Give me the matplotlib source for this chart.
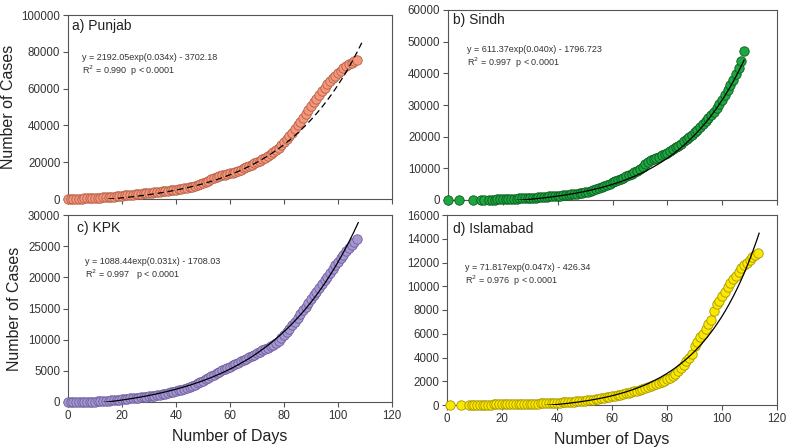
import numpy as np
import matplotlib
matplotlib.use("Agg")
import matplotlib.pyplot as plt
from matplotlib import font_manager

names = {f.name for f in font_manager.fontManager.ttflist}
BASE = "Liberation Sans" if "Liberation Sans" in names else "DejaVu Sans"
NARROW = "Liberation Sans Narrow" if "Liberation Sans Narrow" in names else BASE
plt.rcParams['font.family'] = [BASE, 'DejaVu Sans']

# ---------------- data ----------------
punjab_days = list(range(0, 108))
punjab_cases = [
    0, 30, 80, 130, 180, 240, 300, 360, 430, 500,
    580, 660, 750, 840, 940, 1050, 1170, 1300, 1450, 1600,
    1800, 1950, 2100, 2250, 2400, 2550, 2700, 2850, 3000, 3150,
    3300, 3450, 3600, 3750, 3900, 4100, 4300, 4450, 4650, 4850,
    5050, 5300, 5550, 5800, 6050, 6350, 6700, 7100, 7600, 8200,
    8800, 9400, 10000, 10600, 11200, 11800, 12300, 12800, 13200, 13600,
    14000, 14400, 14900, 15400, 16000, 16600, 17200, 17900, 18700, 19500,
    20200, 20900, 21600, 22400, 23300, 24300, 25400, 26600, 27900, 29400,
    31000, 32600, 34300, 36100, 38000, 40000, 42000, 44100, 46200, 48300,
    50400, 52500, 54600, 56600, 58600, 60500, 62300, 64000, 65600, 67100,
    68500, 69800, 71000, 72100, 73100, 74000, 75000, 75800,
]

sindh_days = [0, 4, 9, 12, 13] + list(range(15, 109))
sindh_cases = [
    1, 2, 4, 5, 5,
    30, 60, 120, 170, 210, 260, 300, 340, 380, 410,
    440, 480, 520, 560, 600, 650, 700, 760, 830, 900,
    970, 1040, 1110, 1180, 1250, 1320, 1400, 1480, 1560, 1650,
    1750, 1860, 1980, 2120, 2280, 2450, 2650, 2880, 3150, 3450,
    3800, 4150, 4500, 4850, 5200, 5550, 5900, 6300, 6700, 7100,
    7500, 7900, 8300, 8700, 9200, 9800, 10500, 11300, 12000, 12500,
    12900, 13300, 13700, 14100, 14500, 15000, 15500, 16000, 16600, 17200,
    17800, 18500, 19200, 19900, 20600, 21400, 22200, 23000, 23900, 24800,
    25800, 26800, 27900, 29000, 30300, 31700, 33200, 34800, 36400, 38000,
    39800, 41700, 44000, 47000,
]

kpk_days = list(range(0, 108))
kpk_cases = [
    0, 10, 15, 20, 25, 30, 35, 40, 50, 60,
    80, 100, 130, 160, 190, 220, 250, 290, 340, 400,
    450, 490, 530, 570, 610, 650, 700, 750, 800, 850,
    900, 960, 1030, 1100, 1180, 1260, 1350, 1450, 1550, 1650,
    1750, 1870, 2000, 2150, 2300, 2450, 2620, 2800, 3000, 3200,
    3420, 3650, 3880, 4120, 4370, 4620, 4850, 5070, 5280, 5480,
    5680, 5880, 6090, 6300, 6520, 6740, 6960, 7180, 7400, 7620,
    7840, 8060, 8280, 8500, 8720, 8950, 9200, 9500, 9850, 10250,
    10700, 11200, 11750, 12300, 12900, 13500, 14100, 14700, 15300, 15900,
    16500, 17100, 17700, 18300, 18900, 19500, 20100, 20700, 21300, 21900,
    22500, 23100, 23650, 24200, 24700, 25200, 25650, 26100,
]

isb_days = [1, 5] + list(range(8, 114))
isb_cases = [
    2, 4,
    10, 12, 15, 18, 20, 25, 30, 35, 40, 45,
    50, 55, 60, 65, 70, 75, 80, 85, 90, 95,
    100, 105, 110, 115, 120, 125, 130, 140, 150, 160,
    170, 180, 190, 200, 215, 230, 245, 260, 280, 300,
    320, 340, 360, 390, 420, 450, 480, 520, 560, 600,
    640, 680, 720, 770, 820, 870, 920, 970, 1020, 1080,
    1140, 1200, 1270, 1340, 1420, 1500, 1580, 1660, 1740, 1830,
    1930, 2040, 2160, 2300, 2450, 2650, 2880, 3120, 3400, 3700,
    4000, 4300, 5000, 5300, 5700, 6000, 6400, 6800, 7200, 7900,
    8500, 8800, 9200, 9500, 9900, 10300, 10600, 10900, 11200, 11500,
    11800, 12000, 12250, 12450, 12650, 12800,
]

# fitted model parameters printed on the chart: y = a*exp(b*x) + c
fit_a = [2192.05, 611.37, 1088.44, 71.817]
fit_b = [0.034, 0.040, 0.031, 0.047]
fit_c = [-3702.18, -1796.723, -1708.03, -426.34]
fit_xmax = [108.8, 108, 107.5, 113.5]

panel_titles = ["a) Punjab", "b) Sindh", "c) KPK", "d) Islamabad"]
eq_texts = ["y = 2192.05exp(0.034x) - 3702.18",
            "y = 611.37exp(0.040x) - 1796.723",
            "y = 1088.44exp(0.031x) - 1708.03",
            "y = 71.817exp(0.047x) - 426.34"]
r2_texts = [r"R$^2$ = 0.990  p < 0.0001",
            r"R$^2$ = 0.997  p < 0.0001",
            r"R$^2$ = 0.997   p < 0.0001",
            r"R$^2$ = 0.976  p < 0.0001"]
y_maxes = [100000, 60000, 30000, 16000]
y_steps = [20000, 10000, 5000, 2000]
x_ticks = [0, 20, 40, 60, 80, 100, 120]

face_colors = ["#f4977c", "#1ea640", "#a697d2", "#fbe800"]
edge_colors = ["#b35e45", "#0c5a1f", "#6b5c9c", "#a69500"]
line_styles = [(0, (5, 3)), "-", "-", "-"]

all_days = [punjab_days, sindh_days, kpk_days, isb_days]
all_cases = [punjab_cases, sindh_cases, kpk_cases, isb_cases]

# ---------------- figure ----------------
W, H = 789, 447
fig = plt.figure(figsize=(W / 100, H / 100), dpi=100)

def rect(l, t, r, b):
    return [l / W, 1 - b / H, (r - l) / W, (b - t) / H]

rects = [rect(68, 15, 392, 199), rect(448, 10, 777, 200),
         rect(68, 215, 392, 402), rect(447, 215, 777, 405)]

title_pos = [(72, 26), (453, 20), (77, 228), (453, 229)]
eq_pos = [(82, 58), (467, 50), (85, 262), (465, 268)]
r2_off = 13

tick_color = "#333333"
spine_color = "#555555"

for i in range(4):
    ax = fig.add_axes(rects[i])
    x = np.array(all_days[i])
    y = np.array(all_cases[i])
    ax.scatter(x, y, s=46, facecolor=face_colors[i], edgecolor=edge_colors[i],
               linewidth=0.6, zorder=3, clip_on=False)
    xf = np.linspace(0, fit_xmax[i], 400)
    yf = fit_a[i] * np.exp(fit_b[i] * xf) + fit_c[i]
    ax.plot(xf, yf, color="black", lw=0.9, linestyle=line_styles[i], zorder=4)
    ax.set_xlim(0, 120)
    ax.set_ylim(0, y_maxes[i])
    ax.set_xticks(x_ticks)
    ax.set_yticks(np.arange(0, y_maxes[i] + 1, y_steps[i]))
    ax.tick_params(direction="out", length=3.5, width=0.8, color=spine_color,
                   labelsize=8.3, labelcolor=tick_color, pad=2)
    for s in ax.spines.values():
        s.set_color(spine_color)
        s.set_linewidth(0.8)
    if i < 2:
        ax.set_xticklabels([])
    else:
        ax.set_xlabel("Number of Days", fontsize=11.5, color="#222222", labelpad=5)
    if i in (0, 2):
        ax.set_ylabel("Number of Cases", fontsize=11.5, color="#222222",
                      family=[NARROW, BASE], labelpad=4)

    tx, ty = title_pos[i]
    fig.text(tx / W, 1 - ty / H, panel_titles[i], fontsize=10, color="#222222",
             va="center", ha="left")
    ex, ey = eq_pos[i]
    fig.text(ex / W, 1 - ey / H, eq_texts[i], fontsize=6.5, color="#333333",
             va="center", ha="left")
    fig.text(ex / W, 1 - (ey + r2_off) / H, r2_texts[i], fontsize=6.5,
             color="#333333", va="center", ha="left")

fig.savefig("out.png", dpi=100)
